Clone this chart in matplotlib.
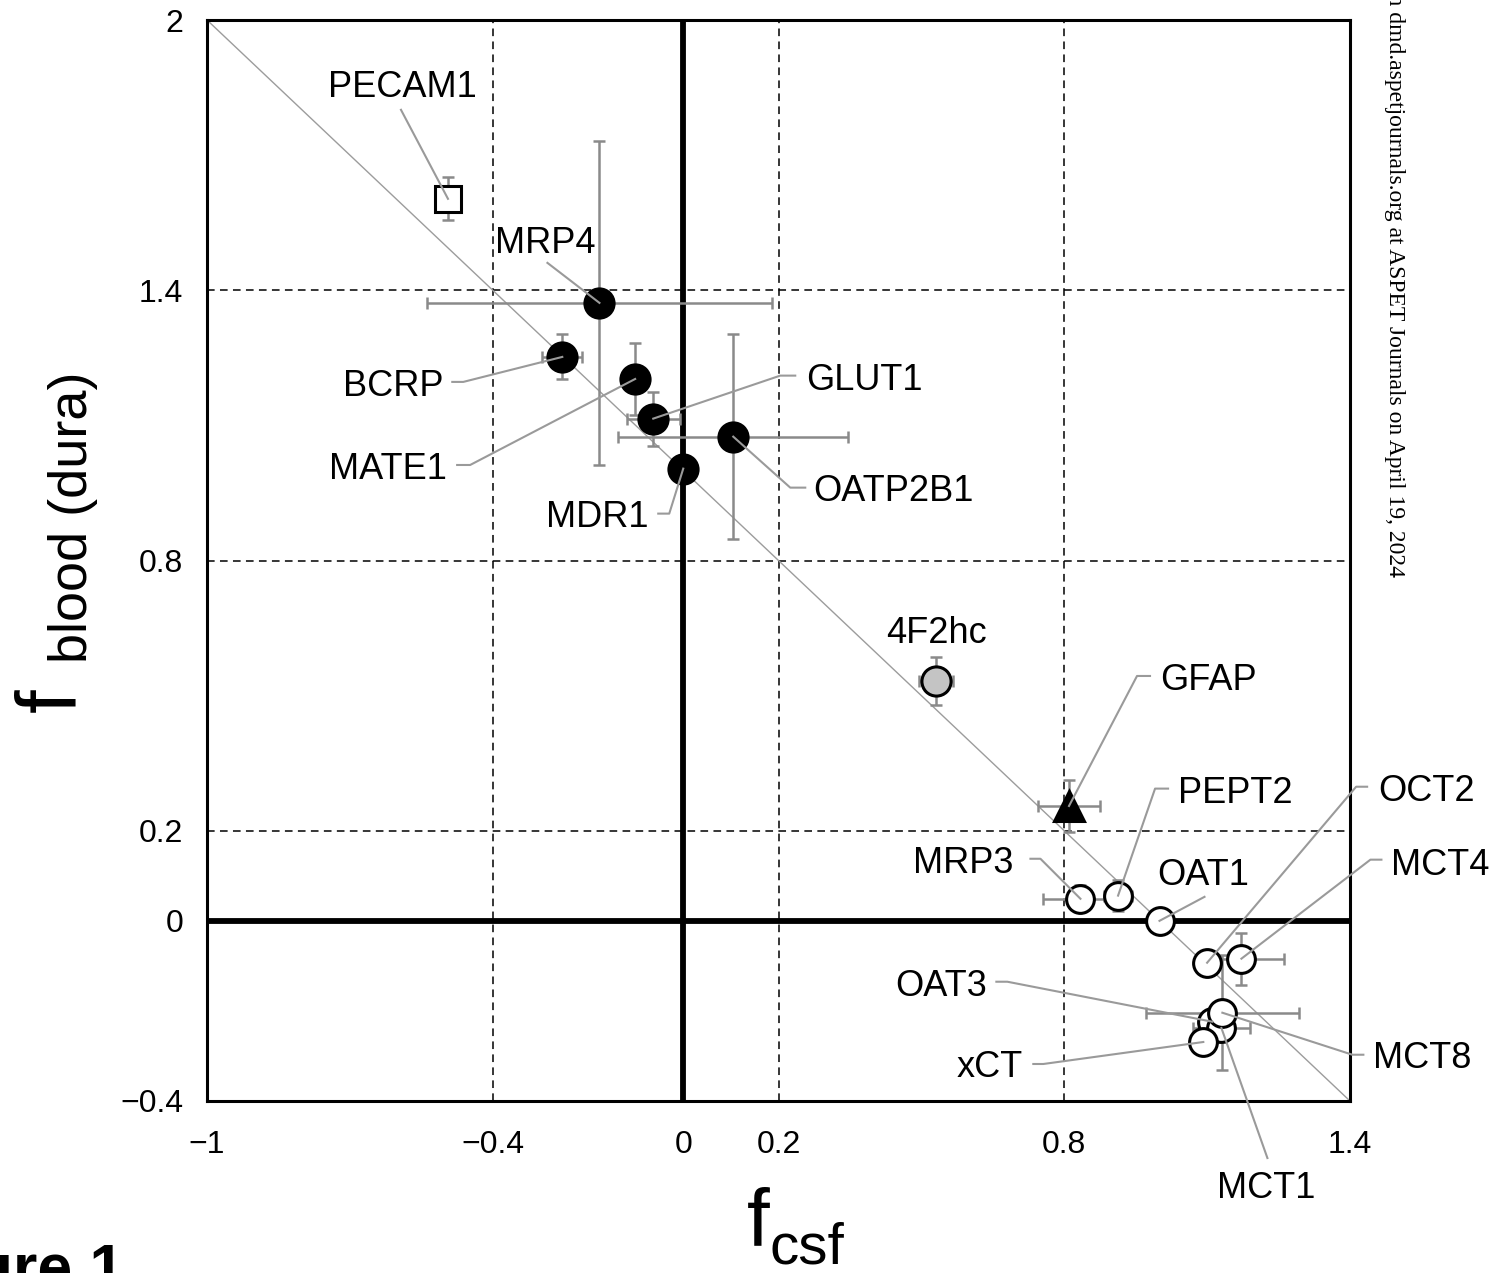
import numpy as np
import matplotlib
matplotlib.use("Agg")
from matplotlib import pyplot as plt
from matplotlib import font_manager

plt.rcParams['font.family'] = ['Liberation Sans', 'DejaVu Sans']

# values
names = ['PECAM1', 'MRP4', 'BCRP', 'MATE1', 'GLUT1', 'OATP2B1', 'MDR1', '4F2hc', 'GFAP',
         'MRP3', 'PEPT2', 'OAT1', 'OCT2', 'MCT4', 'OAT3', 'MCT1', 'MCT8', 'xCT']
kind = ['endo', 'bbb', 'bbb', 'bbb', 'bbb', 'bbb', 'bbb', 'grey', 'glia',
        'open', 'open', 'open', 'open', 'open', 'open', 'open', 'open', 'open']
f_csf = [-0.494, -0.176, -0.254, -0.101, -0.063, 0.105, 0.0, 0.531, 0.81,
         0.834, 0.913, 1.0, 1.100, 1.172, 1.111, 1.130, 1.132, 1.092]
f_blood = [1.603, 1.372, 1.252, 1.203, 1.115, 1.075, 1.004, 0.533, 0.255,
           0.049, 0.056, 0.0, -0.093, -0.084, -0.224, -0.238, -0.204, -0.269]
xerr = [0, 0.363, 0.042, 0, 0.056, 0.241, 0, 0.035, 0.066,
        0.078, 0.030, 0, 0, 0.090, 0, 0.060, 0.160, 0]
yerr = [0.048, 0.360, 0.050, 0.080, 0.060, 0.227, 0, 0.053, 0.058,
        0.030, 0.035, 0, 0, 0.058, 0, 0.030, 0.128, 0]

xticks = [-1, -0.4, 0, 0.2, 0.8, 1.4]
xticklabels = ['\u22121', '\u22120.4', '0', '0.2', '0.8', '1.4']
yticks = [-0.4, 0, 0.2, 0.8, 1.4, 2]
yticklabels = ['\u22120.4', '0', '0.2', '0.8', '1.4', '2']
grid_x = [-0.4, 0.2, 0.8]
grid_y = [0.2, 0.8, 1.4]

# marker styles per group
styles = {
    'endo': dict(marker='s', ms=19, mfc='white', mec='black'),
    'bbb': dict(marker='o', ms=21, mfc='black', mec='black'),
    'grey': dict(marker='o', ms=21, mfc='#c4c4c4', mec='black'),
    'glia': dict(marker='^', ms=22, mfc='black', mec='black'),
    'open': dict(marker='o', ms=20, mfc='white', mec='black'),
}

# label layout: leader line vertices and text anchor, in pixel offsets (y down)
layout = {
    'PECAM1': dict(line=[(-47, -89)], text=(-46, -102), ha='center'),
    'MRP4': dict(line=[(-52, -40)], text=(-54, -50), ha='center'),
    'BCRP': dict(line=[(-99, 25), (-110, 25)], text=(-119, 39), ha='right'),
    'MATE1': dict(line=[(-165, 86), (-178, 86)], text=(-188, 100), ha='right'),
    'GLUT1': dict(line=[(127, -43), (142, -43)], text=(153, -29), ha='left'),
    'OATP2B1': dict(line=[(57, 51), (72, 51)], text=(80, 64), ha='left'),
    'MDR1': dict(line=[(-14, 45), (-25, 45)], text=(-35, 58), ha='right'),
    '4F2hc': dict(line=[], text=(0, -38), ha='center'),
    'GFAP': dict(line=[(68, -130), (81, -130)], text=(91, -116), ha='left'),
    'MRP3': dict(line=[(-40, -40), (-50, -40)], text=(-67, -26), ha='right'),
    'PEPT2': dict(line=[(37, -107), (50, -107)], text=(60, -93), ha='left'),
    'OAT1': dict(line=[(45, -24)], text=(44, -36), ha='center'),
    'OCT2': dict(line=[(149, -176), (160, -176)], text=(171, -162), ha='left'),
    'MCT4': dict(line=[(129, -99), (140, -99)], text=(150, -84), ha='left'),
    'OAT3': dict(line=[(-205, -40), (-216, -40)], text=(-225, -26), ha='right'),
    'MCT1': dict(line=[(46, 130)], text=(45, 170), ha='center'),
    'MCT8': dict(line=[(130, 42), (141, 42)], text=(151, 55), ha='left'),
    'xCT': dict(line=[(-160, 22), (-170, 22)], text=(-180, 35), ha='right'),
}

W, H = 1496, 1273
fig = plt.figure(figsize=(W / 100, H / 100), dpi=100)
ax = fig.add_axes([207 / W, 1 - 1101 / H, (1350 - 207) / W, (1101 - 20) / H])
ax.set_xlim(-1, 1.4)
ax.set_ylim(-0.4, 2)

for gx in grid_x:
    ax.axvline(gx, color='black', lw=1.1, ls=(0, (5, 3.5)), zorder=1)
for gy in grid_y:
    ax.axhline(gy, color='black', lw=1.1, ls=(0, (5, 3.5)), zorder=1)
ax.axvline(0, color='black', lw=4.2, zorder=2)
ax.axhline(0, color='black', lw=4.2, zorder=2)

# f_blood + f_csf = 1
xl = np.array(ax.get_xlim())
ax.plot(xl, 1 - xl, color='#9c9c9c', lw=1.0, zorder=2.5)

for i, name in enumerate(names):
    ax.errorbar(f_csf[i], f_blood[i], xerr=xerr[i], yerr=yerr[i], fmt='none',
                ecolor='#8a8a8a', elinewidth=1.8, capsize=4.5, capthick=1.8, zorder=3)
for i, name in enumerate(names):
    ax.plot(f_csf[i], f_blood[i], ls='none', mew=2.2, zorder=4 + i * 0.01, **styles[kind[i]])

for i, name in enumerate(names):
    lay = layout[name]
    p = ax.transData.transform((f_csf[i], f_blood[i]))
    if lay['line']:
        pts = [p] + [p + np.array([dx, -dy]) for dx, dy in lay['line']]
        d = ax.transData.inverted().transform(np.array(pts))
        ax.plot(d[:, 0], d[:, 1], color='#9a9a9a', lw=1.5, zorder=6, clip_on=False)
    tx, ty = lay['text']
    ax.annotate(name, (f_csf[i], f_blood[i]), xytext=(tx, -ty), textcoords='offset pixels',
                ha=lay['ha'], va='baseline', fontsize=26, zorder=7, annotation_clip=False)

ax.set_xticks(xticks, xticklabels)
ax.set_yticks(yticks, yticklabels)
ax.tick_params(axis='both', length=0, labelsize=23)
ax.tick_params(axis='x', pad=21)
ax.tick_params(axis='y', pad=17)
for sp in ax.spines.values():
    sp.set_linewidth(2.2)


def fx(p):
    return p / W


def fy(p):
    return 1 - p / H


# axis labels drawn as big f with a large subscript
fig.text(fx(747), fy(1245), 'f', fontsize=59, ha='left', va='baseline')
fig.text(fx(770), fy(1264), 'csf', fontsize=42, ha='left', va='baseline')

narrow = 'Liberation Sans Narrow' in {f.name for f in font_manager.fontManager.ttflist}
sub_family = ['Liberation Sans Narrow', 'DejaVu Sans'] if narrow else ['Liberation Sans', 'DejaVu Sans']
sub_size = 44 if narrow else 39
fig.text(fx(75), fy(712), 'f', fontsize=61, rotation=90, rotation_mode='anchor',
         ha='left', va='baseline')
fig.text(fx(87), fy(663), 'blood (dura)', fontsize=sub_size, family=sub_family, rotation=90,
         rotation_mode='anchor', ha='left', va='baseline')

fig.text(fx(124), fy(1288), 'Figure 1', fontsize=45, fontweight='bold', ha='right', va='baseline')

fig.text(fx(1389), fy(577), 'Downloaded from dmd.aspetjournals.org at ASPET Journals on April 19, 2024',
         fontsize=17, family=['Liberation Serif', 'DejaVu Serif'], rotation=-90,
         rotation_mode='anchor', ha='right', va='baseline')

fig.savefig('out.png', dpi=100)
